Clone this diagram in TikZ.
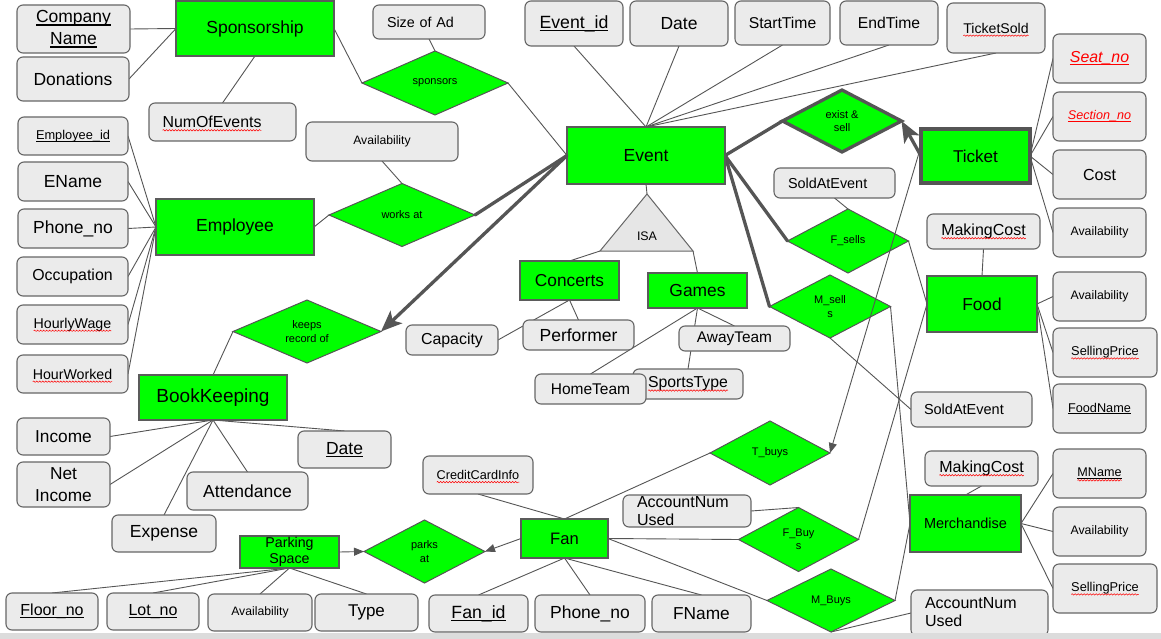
\documentclass[tikz,border=0pt]{standalone}
\usepackage{fontspec}
\setmainfont{Liberation Sans}
\usetikzlibrary{shapes.geometric,arrows.meta,decorations.pathmorphing}

\definecolor{ergreen}{HTML}{00FF00}
\definecolor{attfill}{HTML}{EBEBEB}
\definecolor{entline}{HTML}{5B5B5B}
\definecolor{attline}{HTML}{666666}
\definecolor{connline}{HTML}{555555}
\definecolor{isafill}{HTML}{E6E6E6}
\definecolor{stripgray}{HTML}{DCDCDC}
\definecolor{keyred}{HTML}{FF0000}

\pgfdeclarelayer{background}
\pgfsetlayers{background,main}

% font size helper: size and baseline skip in pt
\newcommand\fs[2]{\fontsize{#1}{#2}\selectfont}
% key attribute underline
\newcommand\ul[1]{\setbox0\hbox{#1}\rlap{\vrule width\wd0 height-0.1em depth0.17em}\box0}

\tikzset{
  sz/.style 2 args={minimum width=#1pt, minimum height=#2pt},
  ent/.style={rectangle, draw=entline, line width=1.3pt, fill=ergreen,
    inner sep=0pt, outer sep=0pt, font=\fs{17.5}{21}},
  attr/.style={rectangle, rounded corners=6pt, draw=attline, line width=1.1pt,
    fill=attfill, inner sep=0pt, outer sep=0pt, font=\fs{17.5}{21}},
  txt/.style={inner sep=0pt, outer sep=0pt},
  rel/.style={diamond, aspect=2, draw=connline, line width=1pt, fill=ergreen,
    inner sep=0pt, outer sep=0pt, align=center, font=\fs{11}{13.5}},
  conn/.style={draw=connline, line width=0.9pt},
  heavy/.style={draw=connline, line width=3.3pt, line cap=round},
  bighead/.style={-{Stealth[length=21pt,width=17pt,inset=5pt]}},
  smallhead/.style={-{Triangle[length=10pt,width=8pt]}},
  spellline/.style={draw=red, line width=0.5pt, decorate,
    decoration={snake, amplitude=0.7pt, segment length=3pt}},
}

\begin{document}
\begin{tikzpicture}[x=1pt,y=-1pt]
\useasboundingbox (0,0) rectangle (1161,639);

% ---------------- Sponsorship ----------------
\node[ent,sz={158}{55}] (spons) at (255,28.5) {Sponsorship};
\node[attr,sz={113}{48},align=center,font=\fs{17.5}{22}] (cname) at (73.5,29) {\ul{Company}\\\ul{Name}};
\node[attr,sz={112}{44}] (donat) at (73,79) {Donations};
\node[attr,sz={112}{34},font=\fs{14.3}{17},text width=84pt,align=left] (sizead) at (429,22) {Size of Ad};
\node[rel,sz={146}{64}] (sponsors) at (435,83) {sponsors};
\node[attr,sz={147}{38}] (numev) at (222.5,122) {};
\node[txt,font=\fs{15.9}{19}] (numevt) at (212,122) {NumOfEvents};

% ---------------- Employee ----------------
\node[attr,sz={110}{38},font=\fs{12.8}{15}] (empid) at (73,136) {\ul{Employee\_id}};
\node[attr,sz={110}{39}] (ename) at (73,181.5) {EName};
\node[attr,sz={110}{39}] (ephone) at (73,228.5) {Phone\_no};
\node[attr,sz={111}{39},font=\fs{15.9}{19}] (occup) at (72.5,276.5) {Occupation};
\node[attr,sz={111}{39}] (hwage) at (72.5,324.5) {};
\node[txt,font=\fs{14.2}{17}] (hwaget) at (hwage) {HourlyWage};
\node[attr,sz={111}{38}] (hwork) at (72.5,374) {};
\node[txt,font=\fs{14.2}{17}] (hworkt) at (hwork) {HourWorked};
\node[ent,sz={158}{56}] (employee) at (235,227) {Employee};
\node[attr,sz={152}{39},font=\fs{12.2}{15}] (wavail) at (382,141.5) {Availability};
\node[rel,sz={146}{63}] (works) at (402,215) {works at};

% ---------------- Event ----------------
\node[ent,sz={158}{57}] (event) at (646,155.5) {Event};
\node[attr,sz={98}{45},font=\fs{17.7}{21}] (evid) at (574,23.5) {\ul{Event\_id}};
\node[attr,sz={98}{45}] (evdate) at (679,23.5) {Date};
\node[attr,sz={95}{44},font=\fs{15.7}{19}] (start) at (782.5,23) {StartTime};
\node[attr,sz={98}{44},font=\fs{15.7}{19}] (endt) at (889,23) {EndTime};
\node[attr,sz={98}{50}] (tsold) at (996,28) {};
\node[txt,font=\fs{14.1}{17}] (tsoldt) at (tsold) {TicketSold};

% ---------------- Ticket ----------------
\node[rel,sz={119}{62},line width=3.3pt] (exsell) at (842,121) {exist \&\\sell};
\node[ent,sz={109}{54},line width=3.3pt,draw=connline,font=\fs{17.1}{21}] (ticket) at (975.5,156) {Ticket};
\node[attr,sz={93}{49},font=\fs{15.9}{19}] (seat) at (1099.5,58.5) {\color{keyred}\itshape\ul{Seat\_no}};
\node[attr,sz={93}{49},font=\fs{12.6}{15}] (section) at (1099.5,116.5) {\color{keyred}\itshape\ul{Section\_no}};
\node[attr,sz={93}{49},font=\fs{16}{19}] (cost) at (1099.5,174.5) {Cost};
\node[attr,sz={93}{49},font=\fs{12.3}{15}] (tavail) at (1099.5,232.5) {Availability};

% ---------------- Food ----------------
\node[attr,sz={121}{30},font=\fs{14.4}{17},text width=93pt,align=left] (sold1) at (834.5,183) {SoldAtEvent};
\node[rel,sz={121}{64}] (fsells) at (848,241) {F\_sells};
\node[rel,sz={121}{63}] (msells) at (830,306.5) {M\_sell\\s};
\node[attr,sz={113}{35}] (fmc) at (983.5,231.5) {};
\node[txt,font=\fs{16}{19}] (fmct) at (fmc) {MakingCost};
\node[ent,sz={110}{56},font=\fs{17.3}{21}] (food) at (982,304) {Food};
\node[attr,sz={93}{49},font=\fs{12.3}{15}] (favail) at (1099.5,296.5) {Availability};
\node[attr,sz={104}{49}] (fsp) at (1105,352.5) {};
\node[txt,font=\fs{12.8}{15}] (fspt) at (fsp) {SellingPrice};
\node[attr,sz={93}{49},font=\fs{12.7}{15}] (fname) at (1099.5,408.5) {\ul{FoodName}};
\node[attr,sz={121}{35},font=\fs{14.5}{17},text width=95pt,align=left] (sold2) at (971.5,409.5) {SoldAtEvent};

% ---------------- ISA ----------------
\coordinate (isatop) at (647,194);
\coordinate (isal) at (600,251);
\coordinate (isar) at (693,251);
\draw[fill=isafill, draw=attline, line width=1pt] (isatop) -- (isal) -- (isar) -- cycle;
\node[txt,font=\fs{12.4}{15}] (isa) at (647,236) {ISA};
\node[ent,sz={99}{39},font=\fs{17.3}{21}] (concerts) at (569.5,280.5) {Concerts};
\node[ent,sz={99}{35},font=\fs{17.4}{21}] (games) at (697.5,290.5) {Games};
\node[attr,sz={92}{30},font=\fs{15.9}{19}] (capacity) at (452,340) {Capacity};
\node[attr,sz={111}{30}] (performer) at (578.5,335) {Performer};
\node[attr,sz={111}{25},font=\fs{15.4}{18}] (away) at (734.5,338.5) {AwayTeam};
\node[attr,sz={110}{30}] (sports) at (688,384) {};
\node[txt,font=\fs{15.8}{19}] (sportst) at (sports) {SportsType};
\node[attr,sz={111}{30},font=\fs{15.5}{18}] (home) at (590.5,389) {HomeTeam};

% ---------------- BookKeeping ----------------
\node[rel,sz={148}{63}] (krec) at (307,331.5) {keeps\\record of};
\node[ent,sz={148}{45},font=\fs{19}{22}] (bk) at (213,397.5) {BookKeeping};
\node[attr,sz={93}{37},font=\fs{17.3}{21}] (income) at (63.5,436.5) {Income};
\node[attr,sz={93}{45},font=\fs{17.3}{22},align=center] (netinc) at (63.5,484.5) {Net\\Income};
\node[attr,sz={104}{37}] (expense) at (164,533.5) {Expense};
\node[attr,sz={121}{38}] (attend) at (247.5,491) {Attendance};
\node[attr,sz={93}{37}] (bkdate) at (344.5,449.5) {\ul{Date}};

% ---------------- Parking ----------------
\node[ent,sz={99}{32},font=\fs{14.2}{16},align=center,line width=1.1pt] (park) at (289.5,552) {Parking\\Space};
\node[rel,sz={121}{63}] (parks) at (424.5,551.5) {parks\\at};
\node[attr,sz={92}{37},font=\fs{16}{19}] (floor) at (52,611.5) {\ul{Floor\_no}};
\node[attr,sz={92}{37},font=\fs{16}{19}] (lot) at (153,611.5) {\ul{Lot\_no}};
\node[attr,sz={104}{37},font=\fs{12.2}{15}] (pavail) at (260,612.5) {Availability};
\node[attr,sz={103}{37},font=\fs{17}{21}] (ptype) at (366.5,612.5) {Type};

% ---------------- Fan ----------------
\node[ent,sz={87}{39},font=\fs{16.6}{20}] (fan) at (564.5,538.5) {Fan};
\node[attr,sz={110}{38}] (cci) at (478,475) {};
\node[txt,font=\fs{12.7}{15}] (ccit) at (cci) {CreditCardInfo};
\node[attr,sz={128}{32}] (acc1) at (687,511) {};
\node[txt,font=\fs{16}{18.7},align=left,anchor=north west] (acc1t) at (637,496) {AccountNum\\Used};
\node[attr,sz={99}{37},font=\fs{17.7}{21}] (fanid) at (478.5,613.5) {\ul{Fan\_id}};
\node[attr,sz={110}{37}] (fphone) at (590,613.5) {Phone\_no};
\node[attr,sz={99}{37},font=\fs{17.3}{21}] (ffname) at (701.5,613.5) {FName};
\node[rel,sz={120}{64}] (tbuys) at (770,453) {T\_buys};
\node[rel,sz={120}{64}] (fbuys) at (798.5,539.5) {F\_Buy\\s};
\node[rel,sz={128}{63}] (mbuys) at (831,600.5) {M\_Buys};

% ---------------- Merchandise ----------------
\node[ent,sz={111}{57},font=\fs{14.5}{17}] (merch) at (965.5,523.5) {Merchandise};
\node[attr,sz={113}{35}] (mmc) at (981.5,468.5) {};
\node[txt,font=\fs{16}{19}] (mmct) at (mmc) {MakingCost};
\node[attr,sz={93}{49}] (mname) at (1099.5,473.5) {};
\node[txt,font=\fs{12.6}{15}] (mnamet) at (mname) {\ul{MName}};
\node[attr,sz={93}{49},font=\fs{12.3}{15}] (mavail) at (1099.5,531.5) {Availability};
\node[attr,sz={104}{49}] (msp) at (1105,588.5) {};
\node[txt,font=\fs{12.8}{15}] (mspt) at (msp) {SellingPrice};
\node[attr,sz={137}{46}] (acc2) at (979.5,613) {};
\node[txt,font=\fs{16}{18.4},align=left,anchor=north west] (acc2t) at (925,597) {AccountNum\\Used};

% red wavy marks under flagged words
\foreach \t in {numevt,hwaget,hworkt,tsoldt,fmct,fspt,sportst,ccit,mmct,mspt}
  \draw[spellline] ([yshift=-2.6pt]\t.base west) -- ([yshift=-2.6pt]\t.base east);
\draw[spellline] ([yshift=-3.6pt]mnamet.base west) -- ([yshift=-3.6pt]mnamet.base east);

% ---------------- connectors behind the shapes ----------------
\begin{pgfonlayer}{background}
\fill[white] (0,0) rectangle (1161,639);
\draw[conn] (cname.east) -- (spons.west);
\draw[conn] (donat.east) -- (spons.west);
\draw[conn] (spons.south) -- (numev.north);
\draw[conn] (spons.east) -- (sponsors.west);
\draw[conn] (sizead.south) -- (sponsors.north);
\draw[conn] (sponsors.east) -- (event.west);

\foreach \a in {empid,ename,ephone,occup,hwage,hwork}
  \draw[conn] (\a.east) -- (employee.west);
\draw[conn] (wavail.south) -- (works.north);
\draw[conn] (employee.east) -- (works.west);
\draw[heavy] (works.east) -- (event.west);

\foreach \a in {evid,evdate,start,endt,tsold}
  \draw[conn] (\a.south) -- (event.north);

\draw[heavy] (event.east) -- (exsell.west);
\draw[heavy] (event.east) -- (fsells.west);
\draw[heavy] (event.east) -- (msells.west);
\foreach \a in {seat,section,cost,tavail}
  \draw[conn] (ticket.east) -- (\a.west);

\draw[conn] (sold1.south) -- (fsells.north);
\draw[conn] (fsells.east) -- (food.west);
\draw[conn] (msells.east) -- (merch.west);
\draw[conn] (msells.south) -- (sold2.west);
\draw[conn] (fmc.south) -- (food.north);
\foreach \a in {favail,fsp,fname}
  \draw[conn] (food.east) -- (\a.west);

\draw[conn] (event.south) -- (isatop);
\draw[conn] (isal) -- (concerts.north);
\draw[conn] (isar) -- (games.north);
\draw[conn] (concerts.south) -- (capacity.east);
\draw[conn] (concerts.south) -- (performer.north);
\draw[conn] (games.south) -- (home.north);
\draw[conn] (games.south) -- (away.north);
\draw[conn] (games.south) -- (sports.north);

\draw[conn] (krec.west) -- (bk.north);
\draw[conn] (bk.south) -- (income.east);
\draw[conn] (bk.south) -- (netinc.east);
\draw[conn] (bk.south) -- (expense.north);
\draw[conn] (bk.south) -- (attend.north);
\draw[conn] (bk.south) -- (bkdate.north);

\foreach \a in {floor,lot,pavail,ptype}
  \draw[conn] (park.south) -- (\a.north);

\draw[conn] (tbuys.west) -- (fan.north);
\draw[conn] (cci.south) -- (fan.north);
\draw[conn] (fan.east) -- (fbuys.west);
\draw[conn] (fan.east) -- (mbuys.west);
\foreach \a in {fanid,fphone,ffname}
  \draw[conn] (fan.south) -- (\a.north);
\draw[conn] (acc1.east) -- (fbuys.north);
\draw[conn] (fbuys.east) -- (food.west);
\draw[conn] (mbuys.east) -- (merch.west);
\draw[conn] (mbuys.south) -- (acc2.west);
\draw[conn] (mmc.south) -- (merch.north);
\foreach \a in {mname,mavail,msp}
  \draw[conn] (merch.east) -- (\a.west);
\end{pgfonlayer}

% ---------------- arrows on top ----------------
\draw[heavy,bighead] (event.west) -- (krec.east);
\draw[heavy,bighead] (ticket.west) -- (exsell.east);
\draw[conn,smallhead] ([yshift=10pt]ticket.west) -- (tbuys.east);
\draw[conn,smallhead] (park.east) -- (parks.west);
\draw[conn,smallhead] (fan.west) -- (parks.east);

% bottom band
\fill[stripgray] (0,633) rectangle (1161,639);
\end{tikzpicture}
\end{document}
